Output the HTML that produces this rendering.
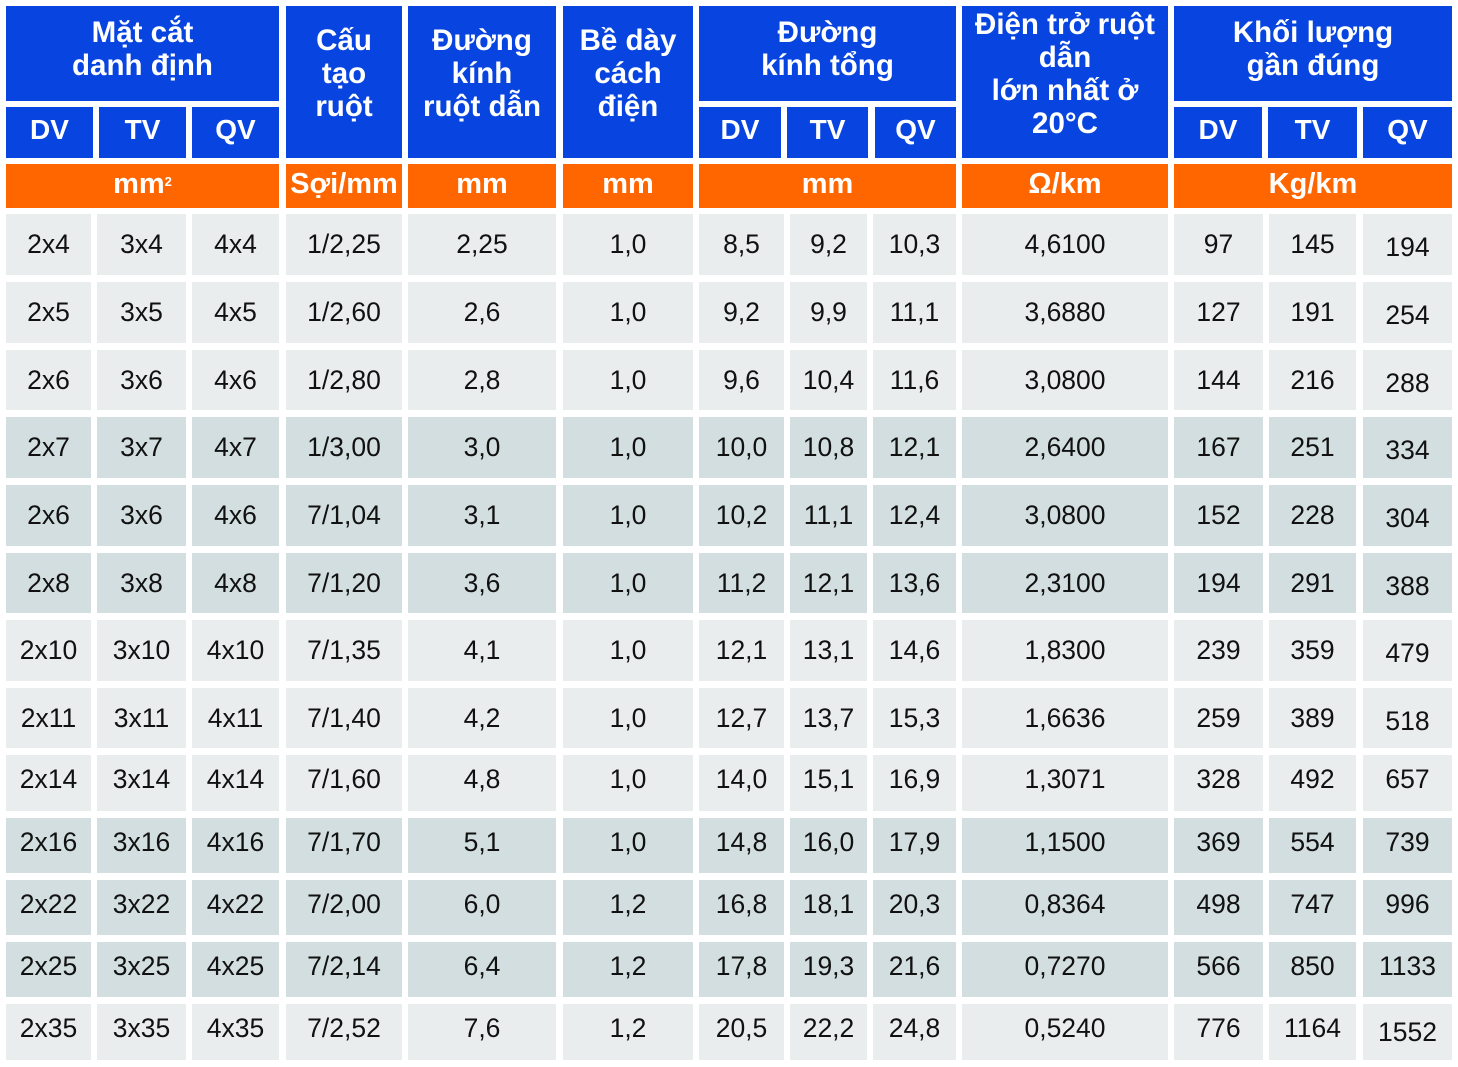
<!DOCTYPE html>
<html>
<head>
<meta charset="utf-8">
<style>
html,body{margin:0;padding:0;background:#fff;}
body{width:1458px;height:1067px;position:relative;overflow:hidden;font-family:"Liberation Sans","DejaVu Sans",Arial,sans-serif;}
.c{position:absolute;display:flex;align-items:center;justify-content:center;text-align:center;box-sizing:border-box;}
.b{position:absolute;background:#0845e0;color:#fff;font-weight:bold;}
.h{position:absolute;left:0;right:0;text-align:center;font-size:29.5px;line-height:33px;white-space:nowrap;}
.s{font-size:28px;font-weight:bold;color:#fff;background:#0845e0;padding-bottom:5px;}
.o{background:#ff6600;color:#fff;font-weight:bold;font-size:29px;padding-bottom:3px;}
.l{background:#e9edee;}
.d{background:#d3dee0;}
.r{position:absolute;left:0;width:1458px;}
.r .c{top:0;height:100%;font-size:26.5px;color:#111;}
.u .c{padding-bottom:7px;}
.r .q{padding-top:6px;}
.u .q{padding-top:0;padding-bottom:7px;}
.c1{left:6px;width:85px}.c2{left:97px;width:89px}.c3{left:192px;width:87px}.c4{left:286px;width:116px}
.c5{left:408px;width:148px}.c6{left:563px;width:130px}.c7{left:699px;width:85px}.c8{left:790px;width:77px}
.c9{left:873px;width:83px}.c10{left:962px;width:206px}.c11{left:1174px;width:89px}.c12{left:1269px;width:87px}.c13{left:1363px;width:89px}
sup{font-size:13px;vertical-align:top;position:relative;top:-3px;}
</style>
</head>
<body>
<!-- Top header -->
<div class="b" style="left:6px;top:6px;width:273px;height:95px;"><div class="h" style="top:10px;">Mặt cắt<br>danh định</div></div>
<div class="c s" style="left:6px;top:107px;width:87px;height:51px;">DV</div>
<div class="c s" style="left:99px;top:107px;width:87px;height:51px;">TV</div>
<div class="c s" style="left:192px;top:107px;width:87px;height:51px;">QV</div>

<div class="b" style="left:286px;top:6px;width:116px;height:152px;"><div class="h" style="top:18px;">Cấu<br>tạo<br>ruột</div></div>
<div class="b" style="left:408px;top:6px;width:148px;height:152px;"><div class="h" style="top:18px;">Đường<br>kính<br>ruột dẫn</div></div>
<div class="b" style="left:563px;top:6px;width:130px;height:152px;"><div class="h" style="top:18px;">Bề dày<br>cách<br>điện</div></div>

<div class="b" style="left:699px;top:6px;width:257px;height:95px;"><div class="h" style="top:10px;">Đường<br>kính tổng</div></div>
<div class="c s" style="left:699px;top:107px;width:82px;height:51px;">DV</div>
<div class="c s" style="left:787px;top:107px;width:81px;height:51px;">TV</div>
<div class="c s" style="left:875px;top:107px;width:81px;height:51px;">QV</div>

<div class="b" style="left:962px;top:6px;width:206px;height:152px;"><div class="h" style="top:2px;">Điện trở ruột<br>dẫn<br>lớn nhất ở<br>20°C</div></div>

<div class="b" style="left:1174px;top:6px;width:278px;height:95px;"><div class="h" style="top:10px;">Khối lượng<br>gần đúng</div></div>
<div class="c s" style="left:1174px;top:107px;width:88px;height:51px;">DV</div>
<div class="c s" style="left:1268px;top:107px;width:89px;height:51px;">TV</div>
<div class="c s" style="left:1363px;top:107px;width:89px;height:51px;">QV</div>

<!-- Units row -->
<div class="c o" style="left:6px;top:164px;width:273px;height:44px;">mm<sup>2</sup></div>
<div class="c o" style="left:286px;top:164px;width:116px;height:44px;">Sợi/mm</div>
<div class="c o" style="left:408px;top:164px;width:148px;height:44px;">mm</div>
<div class="c o" style="left:563px;top:164px;width:130px;height:44px;">mm</div>
<div class="c o" style="left:699px;top:164px;width:257px;height:44px;">mm</div>
<div class="c o" style="left:962px;top:164px;width:206px;height:44px;">Ω/km</div>
<div class="c o" style="left:1174px;top:164px;width:278px;height:44px;">Kg/km</div>

<!-- Data rows -->
<div class="r" style="top:214px;height:61px;">
<div class="c l c1">2x4</div><div class="c l c2">3x4</div><div class="c l c3">4x4</div><div class="c l c4">1/2,25</div><div class="c l c5">2,25</div><div class="c l c6">1,0</div><div class="c l c7">8,5</div><div class="c l c8">9,2</div><div class="c l c9">10,3</div><div class="c l c10">4,6100</div><div class="c l c11">97</div><div class="c l c12">145</div><div class="c l c13 q">194</div>
</div>
<div class="r" style="top:282px;height:61px;">
<div class="c l c1">2x5</div><div class="c l c2">3x5</div><div class="c l c3">4x5</div><div class="c l c4">1/2,60</div><div class="c l c5">2,6</div><div class="c l c6">1,0</div><div class="c l c7">9,2</div><div class="c l c8">9,9</div><div class="c l c9">11,1</div><div class="c l c10">3,6880</div><div class="c l c11">127</div><div class="c l c12">191</div><div class="c l c13 q">254</div>
</div>
<div class="r" style="top:350px;height:60px;">
<div class="c l c1">2x6</div><div class="c l c2">3x6</div><div class="c l c3">4x6</div><div class="c l c4">1/2,80</div><div class="c l c5">2,8</div><div class="c l c6">1,0</div><div class="c l c7">9,6</div><div class="c l c8">10,4</div><div class="c l c9">11,6</div><div class="c l c10">3,0800</div><div class="c l c11">144</div><div class="c l c12">216</div><div class="c l c13 q">288</div>
</div>
<div class="r" style="top:417px;height:61px;">
<div class="c d c1">2x7</div><div class="c d c2">3x7</div><div class="c d c3">4x7</div><div class="c d c4">1/3,00</div><div class="c d c5">3,0</div><div class="c d c6">1,0</div><div class="c d c7">10,0</div><div class="c d c8">10,8</div><div class="c d c9">12,1</div><div class="c d c10">2,6400</div><div class="c d c11">167</div><div class="c d c12">251</div><div class="c d c13 q">334</div>
</div>
<div class="r" style="top:485px;height:61px;">
<div class="c d c1">2x6</div><div class="c d c2">3x6</div><div class="c d c3">4x6</div><div class="c d c4">7/1,04</div><div class="c d c5">3,1</div><div class="c d c6">1,0</div><div class="c d c7">10,2</div><div class="c d c8">11,1</div><div class="c d c9">12,4</div><div class="c d c10">3,0800</div><div class="c d c11">152</div><div class="c d c12">228</div><div class="c d c13 q">304</div>
</div>
<div class="r" style="top:553px;height:60px;">
<div class="c d c1">2x8</div><div class="c d c2">3x8</div><div class="c d c3">4x8</div><div class="c d c4">7/1,20</div><div class="c d c5">3,6</div><div class="c d c6">1,0</div><div class="c d c7">11,2</div><div class="c d c8">12,1</div><div class="c d c9">13,6</div><div class="c d c10">2,3100</div><div class="c d c11">194</div><div class="c d c12">291</div><div class="c d c13 q">388</div>
</div>
<div class="r" style="top:620px;height:61px;">
<div class="c l c1">2x10</div><div class="c l c2">3x10</div><div class="c l c3">4x10</div><div class="c l c4">7/1,35</div><div class="c l c5">4,1</div><div class="c l c6">1,0</div><div class="c l c7">12,1</div><div class="c l c8">13,1</div><div class="c l c9">14,6</div><div class="c l c10">1,8300</div><div class="c l c11">239</div><div class="c l c12">359</div><div class="c l c13 q">479</div>
</div>
<div class="r" style="top:688px;height:60px;">
<div class="c l c1">2x11</div><div class="c l c2">3x11</div><div class="c l c3">4x11</div><div class="c l c4">7/1,40</div><div class="c l c5">4,2</div><div class="c l c6">1,0</div><div class="c l c7">12,7</div><div class="c l c8">13,7</div><div class="c l c9">15,3</div><div class="c l c10">1,6636</div><div class="c l c11">259</div><div class="c l c12">389</div><div class="c l c13 q">518</div>
</div>
<div class="r u" style="top:755px;height:56px;">
<div class="c l c1">2x14</div><div class="c l c2">3x14</div><div class="c l c3">4x14</div><div class="c l c4">7/1,60</div><div class="c l c5">4,8</div><div class="c l c6">1,0</div><div class="c l c7">14,0</div><div class="c l c8">15,1</div><div class="c l c9">16,9</div><div class="c l c10">1,3071</div><div class="c l c11">328</div><div class="c l c12">492</div><div class="c l c13">657</div>
</div>
<div class="r u" style="top:818px;height:55px;">
<div class="c d c1">2x16</div><div class="c d c2">3x16</div><div class="c d c3">4x16</div><div class="c d c4">7/1,70</div><div class="c d c5">5,1</div><div class="c d c6">1,0</div><div class="c d c7">14,8</div><div class="c d c8">16,0</div><div class="c d c9">17,9</div><div class="c d c10">1,1500</div><div class="c d c11">369</div><div class="c d c12">554</div><div class="c d c13">739</div>
</div>
<div class="r u" style="top:880px;height:55px;">
<div class="c d c1">2x22</div><div class="c d c2">3x22</div><div class="c d c3">4x22</div><div class="c d c4">7/2,00</div><div class="c d c5">6,0</div><div class="c d c6">1,2</div><div class="c d c7">16,8</div><div class="c d c8">18,1</div><div class="c d c9">20,3</div><div class="c d c10">0,8364</div><div class="c d c11">498</div><div class="c d c12">747</div><div class="c d c13">996</div>
</div>
<div class="r u" style="top:942px;height:55px;">
<div class="c d c1">2x25</div><div class="c d c2">3x25</div><div class="c d c3">4x25</div><div class="c d c4">7/2,14</div><div class="c d c5">6,4</div><div class="c d c6">1,2</div><div class="c d c7">17,8</div><div class="c d c8">19,3</div><div class="c d c9">21,6</div><div class="c d c10">0,7270</div><div class="c d c11">566</div><div class="c d c12">850</div><div class="c d c13">1133</div>
</div>
<div class="r u" style="top:1004px;height:56px;">
<div class="c l c1">2x35</div><div class="c l c2">3x35</div><div class="c l c3">4x35</div><div class="c l c4">7/2,52</div><div class="c l c5">7,6</div><div class="c l c6">1,2</div><div class="c l c7">20,5</div><div class="c l c8">22,2</div><div class="c l c9">24,8</div><div class="c l c10">0,5240</div><div class="c l c11">776</div><div class="c l c12">1164</div><div class="c l c13" style="padding-bottom:0;">1552</div>
</div>
</body>
</html>
